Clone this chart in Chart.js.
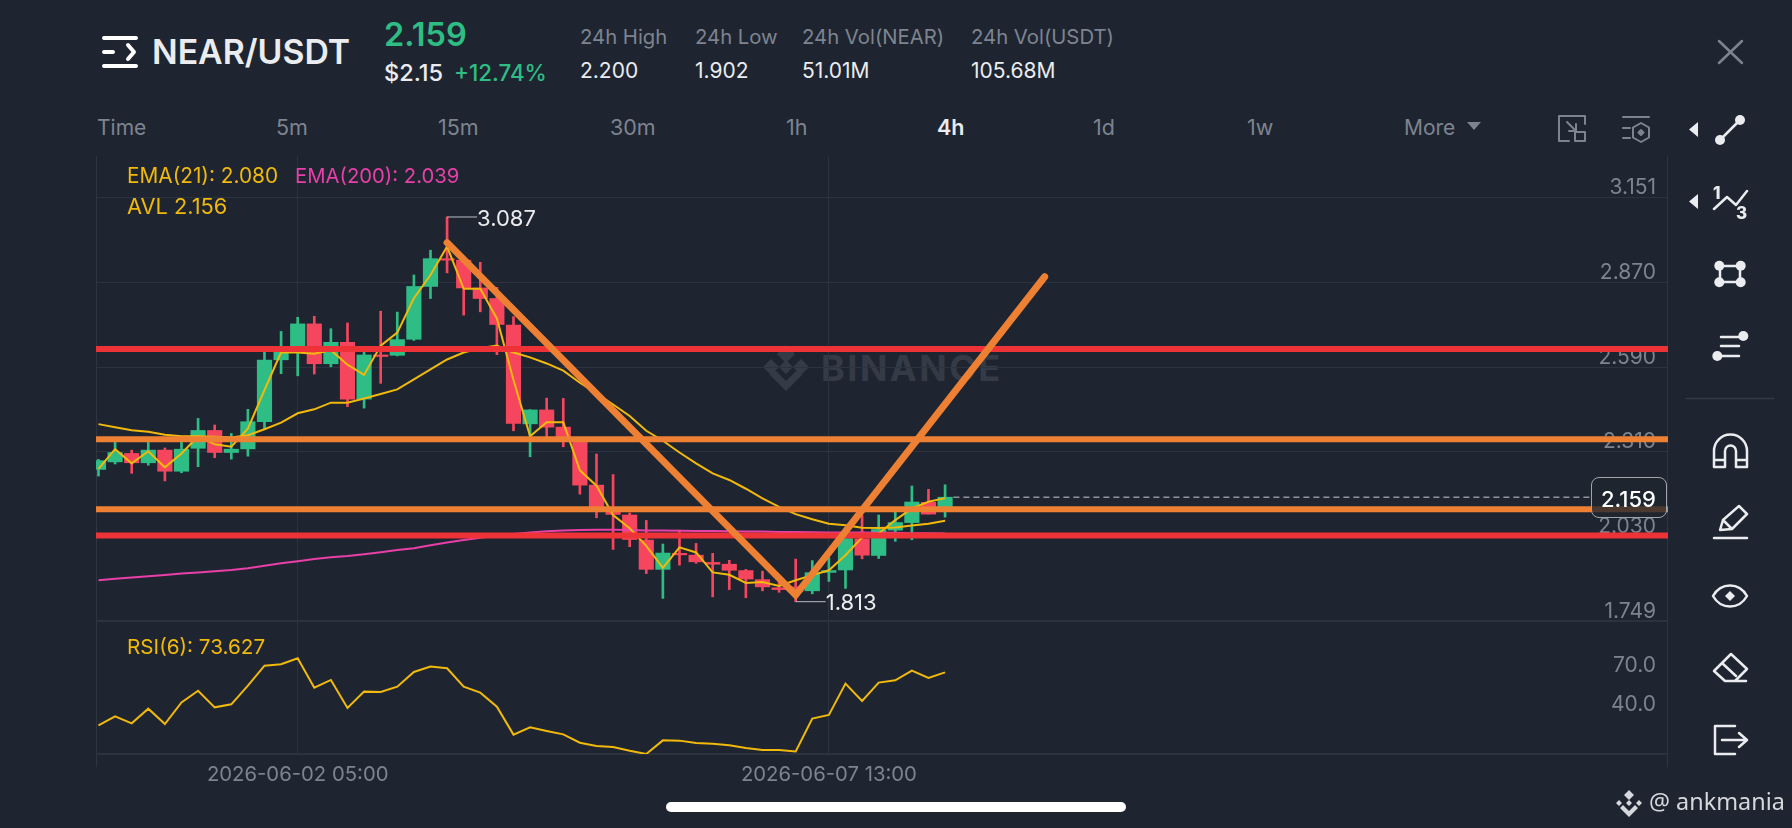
<!DOCTYPE html>
<html>
<head>
<meta charset="utf-8">
<title>NEAR/USDT</title>
<script src="https://cdn.jsdelivr.net/npm/chart.js@4"></script>
<style>
html, body { margin: 0; padding: 0; background: #1f2530; width: 1792px; height: 828px; overflow: hidden; }
body { position: relative; font-family: Inter, "Noto Sans", sans-serif; color: #eaecef; }
.t { position: absolute; transform: translateY(-50%); white-space: nowrap; line-height: 1; }
.grey { color: #7d8490; }
canvas { position: absolute; display: block; }
#wm { position: absolute; left: 821px; top: 368px; transform: translateY(-50%); font: 700 36px Inter, sans-serif; letter-spacing: 2.5px; color: #343b47; line-height: 1; }
#badge { position: absolute; left: 1591px; top: 477px; width: 74px; height: 39px; border: 1px solid #a0a5ad; border-radius: 8px; background: rgba(31,37,48,.78); }
svg { position: absolute; left: 0; top: 0; }
</style>
</head>
<body>
<!-- en-tête -->
<span class="t" style="left:152px;top:52px;font-size:33.8px;font-weight:600">NEAR/USDT</span>
<span class="t" style="left:384px;top:35px;font-size:32.5px;font-weight:600;color:#2ebd85">2.159</span>
<span class="t" style="left:384px;top:73px;font-size:23.5px;font-weight:500">$2.15</span>
<span class="t" style="left:454px;top:73px;font-size:22.4px;font-weight:500;color:#2ebd85">+12.74%</span>
<span class="t grey" style="left:580px;top:37px;font-size:20.3px">24h High</span>
<span class="t" style="left:580px;top:70px;font-size:21px">2.200</span>
<span class="t grey" style="left:695px;top:37px;font-size:20.3px">24h Low</span>
<span class="t" style="left:695px;top:70px;font-size:21px">1.902</span>
<span class="t grey" style="left:802px;top:37px;font-size:20.3px">24h Vol(NEAR)</span>
<span class="t" style="left:802px;top:70px;font-size:21px">51.01M</span>
<span class="t grey" style="left:971px;top:37px;font-size:20.3px">24h Vol(USDT)</span>
<span class="t" style="left:971px;top:70px;font-size:21px">105.68M</span>

<!-- intervalles -->
<span class="t grey" style="left:97px;top:127px;font-size:21px">Time</span>
<span class="t grey" style="left:276px;top:128px;font-size:21.5px">5m</span>
<span class="t grey" style="left:438px;top:128px;font-size:21.5px">15m</span>
<span class="t grey" style="left:610px;top:128px;font-size:21.5px">30m</span>
<span class="t grey" style="left:786px;top:128px;font-size:21.5px">1h</span>
<span class="t" style="left:937px;top:128px;font-size:21.5px;font-weight:600">4h</span>
<span class="t grey" style="left:1093px;top:128px;font-size:21.5px">1d</span>
<span class="t grey" style="left:1247px;top:128px;font-size:21.5px">1w</span>
<span class="t grey" style="left:1404px;top:127px;font-size:21px">More</span>

<!-- filigrane sous le graphique -->
<span id="wm">BINANCE</span>
<svg width="1792" height="828" fill="#343b47">
  <path d="M786 345l9 9-9 9-9-9zM771 359l8 8-8 8-8-8zM801 359l8 8-8 8-8-8zM786 360l7 7-7 7-7-7zM786 391l-16-16 5-5 11 11 11-11 5 5z"/>
</svg>

<!-- cadre -->
<div style="position:absolute;left:96px;top:156px;width:1px;height:611px;background:#2e3440"></div>
<div style="position:absolute;left:1667px;top:156px;width:1px;height:611px;background:#2e3440"></div>
<div style="position:absolute;left:96px;top:620px;width:1572px;height:2px;background:#2c323e"></div>

<canvas id="priceChart" width="1572" height="465" style="left:96px;top:156px;width:1572px;height:465px"></canvas>
<canvas id="rsiChart" width="1572" height="169" style="left:96px;top:621px;width:1572px;height:169px"></canvas>

<!-- légendes -->
<span class="t" style="left:127px;top:176px;font-size:20.8px;color:#f0b90b">EMA(21): 2.080</span>
<span class="t" style="left:295px;top:176px;font-size:20.3px;color:#e83fa8">EMA(200): 2.039</span>
<span class="t" style="left:127px;top:207px;font-size:21.8px;color:#f0b90b">AVL 2.156</span>
<span class="t" style="left:127px;top:647px;font-size:20.7px;color:#f0b90b">RSI(6): 73.627</span>

<div id="badge"></div>
<span class="t" style="left:1601px;top:499px;font-size:22px;font-weight:500;color:#fff">2.159</span>

<span class="t" style="left:1649px;top:802px;font-size:23.4px;font-family:'Noto Sans';color:#d5d8dc">@ ankmania</span>
<div style="position:absolute;left:666px;top:802px;width:460px;height:10px;border-radius:5px;background:#fff"></div>

<!-- icônes -->
<svg width="1792" height="828" fill="none" stroke="#eaecef" stroke-width="2.5" stroke-linecap="round" stroke-linejoin="round">
  <path d="M104 38h32M104 52h9M104 66h32M128 45l6 7-6 7" stroke-width="4" stroke="#fff"/>
  <path d="M1719 41l23 22M1742 41l-23 22" stroke="#7d8490"/>
  <g stroke="#7d8490" stroke-width="2">
    <path d="M1585 124v-8h-26v25h10"/><rect x="1575" y="132" width="10" height="9"/><path d="M1567 122l9 9M1576 124v7h-7"/>
    <path d="M1623 117h26M1623 128h7M1623 138h7"/><path d="M1641 123l8 4.500v10l-8 4.500-8-4.500v-10z"/><path d="M1641 130l2.500 2.500-2.500 2.500-2.500-2.500z" fill="#7d8490"/>
  </g>
  <g fill="#eaecef" stroke="none">
    <path d="M1698 122v15l-9-7.500zM1698 194v15l-9-7.500z"/>
    <circle cx="1720" cy="140" r="5"/><circle cx="1740" cy="120" r="5"/>
    <circle cx="1719.300" cy="265.700" r="5"/><circle cx="1740.700" cy="265.700" r="5"/><circle cx="1719.300" cy="282.300" r="5"/><circle cx="1740.700" cy="282.300" r="5"/>
    <circle cx="1743.300" cy="336" r="5"/><circle cx="1717.300" cy="356" r="5"/>
    <path d="M1730 591l5 5-5 5-5-5z"/>
  </g>
  <path d="M1720 140l20-20M1714 209l13-12 9 8 11-14M1720 266h20M1720 282h20M1720 266v16M1740 266v16M1721 337h22M1721 346h18M1717 356h22"/>
  <path d="M1714 467v-16a16 16 0 0 1 33 0v16h-11v-16a5 5 0 0 0-11 0v16zM1714 460h11M1736 460h11"/>
  <path d="M1720 530l3-10 16-14 8 8-15 15zM1723 520l8 8M1714 538h33"/>
  <path d="M1713 596c8-14 26-14 34 0-8 14-26 14-34 0z"/>
  <path d="M1714 671l17-17 16 15-12 12h-10zM1722 663l14 13M1725 681h21"/>
  <path d="M1735 726h-20v28h20M1722 740h24M1739 733l8 7-8 7"/>
  <path d="M1686 398.500h88" stroke="#333a46" stroke-width="1.500"/>
  <path d="M1629 790l5 5-5 5-5-5zM1619 800l3 3-3 3-3-3zM1639 800l3 3-3 3-3-3zM1629 800l3 3-3 3-3-3zM1629 817l-9-9 3-3 6 6 6-6 3 3z" fill="#d5d8dc" stroke="none"/>
  <path d="M1467 122h14l-7 8z" fill="#7d8490" stroke="none"/>
</svg>
<svg width="1792" height="828" style="pointer-events:none">
  <text x="1713" y="199" font-family="Inter" font-weight="800" font-size="17" fill="#eaecef">1</text>
  <text x="1736" y="219" font-family="Inter" font-weight="800" font-size="17" fill="#eaecef">3</text>
</svg>

<script>
// ---- Bougies 4h ----
const opens = [2.251, 2.276, 2.304, 2.273, 2.315, 2.245, 2.321, 2.380, 2.307, 2.319, 2.409, 2.614, 2.639,
    2.733, 2.601, 2.672, 2.484, 2.630, 2.629, 2.682, 2.857, 2.949, 2.944, 2.852, 2.817, 2.729, 2.402,
    2.448, 2.391, 2.346, 2.199, 2.122, 2.100, 2.017, 1.920, 1.973, 1.967, 1.943, 1.937, 1.916, 1.886,
    1.859, 1.862, 1.849, 1.910, 1.918, 2.021, 1.966, 2.050, 2.075, 2.142, 2.112];
const closes = [2.280, 2.307, 2.273, 2.315, 2.245, 2.318, 2.380, 2.307, 2.318, 2.409, 2.613, 2.639, 2.733,
    2.601, 2.672, 2.484, 2.630, 2.625, 2.681, 2.857, 2.949, 2.944, 2.852, 2.817, 2.731, 2.403, 2.448,
    2.391, 2.346, 2.199, 2.127, 2.102, 2.019, 1.920, 1.974, 1.968, 1.945, 1.937, 1.917, 1.888, 1.862,
    1.853, 1.846, 1.909, 1.916, 2.022, 1.967, 2.052, 2.075, 2.143, 2.103, 2.159];
const highs = [2.284, 2.343, 2.315, 2.343, 2.322, 2.343, 2.420, 2.398, 2.370, 2.450, 2.639, 2.708, 2.755,
    2.758, 2.717, 2.736, 2.639, 2.775, 2.772, 2.895, 2.977, 3.087, 2.950, 2.937, 2.854, 2.757, 2.449,
    2.487, 2.486, 2.350, 2.302, 2.234, 2.107, 2.082, 2.004, 2.050, 2.006, 1.973, 1.950, 1.920, 1.914,
    1.884, 1.954, 1.949, 1.959, 2.059, 2.099, 2.100, 2.111, 2.196, 2.185, 2.200];
const lows = [2.229, 2.269, 2.238, 2.265, 2.213, 2.240, 2.260, 2.290, 2.285, 2.295, 2.384, 2.568, 2.561,
    2.567, 2.591, 2.459, 2.454, 2.536, 2.627, 2.678, 2.817, 2.902, 2.762, 2.773, 2.631, 2.379, 2.293,
    2.359, 2.326, 2.169, 2.091, 1.986, 1.995, 1.906, 1.824, 1.934, 1.940, 1.829, 1.853, 1.826, 1.849,
    1.844, 1.813, 1.839, 1.880, 1.857, 1.955, 1.956, 2.013, 2.018, 2.103, 2.093];

// ---- Indicateurs ----
const fastLine = [2.253, 2.318, 2.271, 2.311, 2.258, 2.304, 2.361, 2.334, 2.326, 2.386, 2.514, 2.639, 2.638,
    2.634, 2.646, 2.598, 2.564, 2.661, 2.704, 2.818, 2.895, 2.989, 2.849, 2.849, 2.751, 2.547, 2.361,
    2.407, 2.407, 2.248, 2.197, 2.100, 2.056, 1.998, 1.925, 1.993, 1.976, 1.910, 1.902, 1.875, 1.878,
    1.865, 1.884, 1.901, 1.917, 1.967, 2.026, 2.039, 2.083, 2.122, 2.144, 2.156];
const ema21 = [2.401, 2.391, 2.381, 2.376, 2.366, 2.361, 2.361, 2.359, 2.357, 2.364, 2.384, 2.406, 2.437,
    2.450, 2.472, 2.472, 2.486, 2.501, 2.516, 2.549, 2.582, 2.615, 2.638, 2.652, 2.661, 2.638, 2.622,
    2.602, 2.578, 2.538, 2.503, 2.466, 2.428, 2.379, 2.346, 2.307, 2.271, 2.238, 2.216, 2.187, 2.155,
    2.127, 2.103, 2.086, 2.071, 2.066, 2.058, 2.057, 2.059, 2.065, 2.071, 2.081];
const ema200 = [1.884, 1.889, 1.893, 1.897, 1.901, 1.906, 1.910, 1.914, 1.918, 1.924, 1.932, 1.940, 1.947,
    1.954, 1.960, 1.964, 1.970, 1.977, 1.984, 1.990, 2.000, 2.009, 2.017, 2.025, 2.032, 2.037, 2.042,
    2.046, 2.049, 2.050, 2.051, 2.051, 2.050, 2.049, 2.049, 2.048, 2.047, 2.047, 2.046, 2.045, 2.045,
    2.044, 2.044, 2.043, 2.042, 2.042, 2.042, 2.041, 2.041, 2.040, 2.040, 2.039];
const rsi = [33.2, 40.0, 34.7, 45.9, 34.2, 50.7, 59.6, 46.9, 49.2, 63.5, 78.7, 79.8, 84.3,
    61.9, 67.8, 46.4, 58.9, 58.6, 62.7, 73.9, 78.0, 76.7, 62.7, 58.1, 47.4, 26.1, 31.7,
    28.9, 26.3, 19.9, 17.4, 16.6, 13.8, 11.3, 21.7, 21.5, 19.7, 19.2, 17.9, 15.9, 14.3,
    14.3, 13.3, 38.3, 41.1, 65.0, 51.8, 65.8, 67.5, 74.9, 69.3, 73.6];

// ---- Axes ----
const priceTicks = [3.151, 2.870, 2.590, 2.310, 2.030, 1.749];
const rsiTicks = [70, 40];
const timeTicks = [12, 44];
const timeLabels = ["2026-06-02 05:00", "2026-06-07 13:00"];
const xMin = -0.15, xMax = 94.55;
const priceMin = 1.749, priceMax = 3.289;
const rsiMin = 11.3, rsiMax = 112.8;

// ---- Tracés à la main de l'auteur ----
const redLevels = [2.650, 2.032];
const orangeLevels = [2.351, 2.119];
const vLineX = [21, 42, 57];
const vLineY = [3.002, 1.835, 2.889];
const lastPrice = 2.159;
const lastPriceX = [51.5, 89.85];
const extremes = [{ i: 21, v: 3.087 }, { i: 42, v: 1.813 }];

const GREEN = "#2ebd85", RED = "#f6465d", YELLOW = "#f0b90b", PINK = "#e83fa8";
const ORANGE = "#ee8033", LEVEL_RED = "#ee3338", GRID = "#2c323e", TICK = "#7d8490";
const FONT = "Inter";

const xs = closes.map((_, i) => i);
const candleColors = xs.map(i => (closes[i] >= opens[i] ? GREEN : RED));
const toPoints = values => values.map((v, i) => ({ x: i, y: v }));
const setTicks = values => scale => { scale.ticks = values.map(v => ({ value: v })); };
const noAxisSize = scale => { scale.width = 0; scale.paddingTop = 0; scale.paddingBottom = 0; };

function line(data, color, width, order, extra) {
    return Object.assign({
        type: "line", data: data, borderColor: color, borderWidth: width,
        pointRadius: 0, tension: 0, order: order
    }, extra);
}

function level(value, color) {
    return line([{ x: xMin, y: value }, { x: xMax, y: value }], color, 6, 1);
}

// ---- Étiquettes du plus haut et du plus bas ----
const extremesPlugin = {
    id: "extremes",
    afterDatasetsDraw(chart) {
        const { ctx, scales } = chart;
        ctx.save();
        ctx.font = "400 22px " + FONT;
        ctx.textBaseline = "middle";
        extremes.forEach(e => {
            const x = scales.x.getPixelForValue(e.i);
            const y = scales.y.getPixelForValue(e.v);
            ctx.strokeStyle = "#b7bbc2";
            ctx.lineWidth = 1;
            ctx.beginPath();
            ctx.moveTo(x, y);
            ctx.lineTo(x + 30, y);
            ctx.stroke();
            ctx.fillStyle = "#eaecef";
            ctx.fillText(e.v.toFixed(3), x + 30, y + 2);
        });
        ctx.restore();
    }
};

// ---- Graphique des prix ----
new Chart(document.getElementById("priceChart"), {
    type: "bar",
    data: {
        datasets: [
            {
                data: xs.map(i => ({ x: i, y: [lows[i], highs[i]] })),
                backgroundColor: candleColors, barThickness: 2, grouped: false, order: 6
            },
            {
                data: xs.map(i => ({ x: i, y: [opens[i], closes[i]] })),
                backgroundColor: candleColors, barThickness: 14.500, grouped: false, order: 5
            },
            line(toPoints(ema200), PINK, 2, 4),
            line(toPoints(ema21), YELLOW, 2, 3),
            line(toPoints(fastLine), YELLOW, 2, 3),
            line(lastPriceX.map(x => ({ x: x, y: lastPrice })), "#8f949c", 1.500, 2, { borderDash: [6, 4] }),
            ...redLevels.map(v => level(v, LEVEL_RED)),
            ...orangeLevels.map(v => level(v, ORANGE)),
            line(vLineX.map((x, i) => ({ x: x, y: vLineY[i] })), ORANGE, 7, 0, { borderCapStyle: "round", borderJoinStyle: "miter" })
        ]
    },
    options: {
        responsive: false,
        animation: false,
        devicePixelRatio: 1,
        layout: { padding: 0 },
        plugins: { legend: { display: false }, tooltip: { enabled: false } },
        scales: {
            x: {
                type: "linear", min: xMin, max: xMax, offset: false,
                afterBuildTicks: setTicks(timeTicks),
                ticks: { display: false },
                grid: { color: GRID, offset: false, drawTicks: false },
                border: { display: false }
            },
            y: {
                position: "right", min: priceMin, max: priceMax,
                afterBuildTicks: setTicks(priceTicks),
                afterFit: noAxisSize,
                ticks: {
                    mirror: true, padding: -12, labelOffset: -9.5, color: TICK, autoSkip: false,
                    font: { family: FONT, size: 21 }, callback: v => v.toFixed(3)
                },
                grid: { color: GRID, drawTicks: false },
                border: { display: false }
            }
        }
    },
    plugins: [extremesPlugin]
});

// ---- Graphique du RSI ----
new Chart(document.getElementById("rsiChart"), {
    type: "line",
    data: { datasets: [line(toPoints(rsi), YELLOW, 2, 0)] },
    options: {
        responsive: false,
        animation: false,
        devicePixelRatio: 1,
        layout: { padding: 0 },
        plugins: { legend: { display: false }, tooltip: { enabled: false } },
        scales: {
            x: {
                type: "linear", min: xMin, max: xMax,
                afterBuildTicks: setTicks(timeTicks),
                afterFit: scale => { scale.height = 36; scale.paddingLeft = 0; scale.paddingRight = 0; },
                ticks: {
                    color: TICK, padding: 9, autoSkip: false, maxRotation: 0, minRotation: 0,
                    font: { family: FONT, size: 20.3 },
                    callback: v => timeLabels[timeTicks.indexOf(v)]
                },
                grid: { color: GRID, drawTicks: false },
                border: { display: true, color: GRID, width: 2 }
            },
            y: {
                position: "right", min: rsiMin, max: rsiMax,
                afterBuildTicks: setTicks(rsiTicks),
                afterFit: noAxisSize,
                ticks: {
                    mirror: true, padding: -12, labelOffset: -11.5, color: TICK, autoSkip: false,
                    font: { family: FONT, size: 21 }, callback: v => v.toFixed(1)
                },
                grid: { display: false },
                border: { display: false }
            }
        }
    }
});
</script>
</body>
</html>
